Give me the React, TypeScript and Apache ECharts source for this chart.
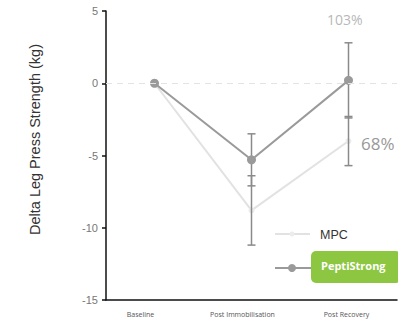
import React, { useEffect, useRef } from "react";
import * as echarts from "echarts";

const categories = ["Baseline", "Post Immobilisation", "Post Recovery"];
const peptiStrong = [0, -5.3, 0.2];
const mpc = [0, -8.8, -4.0];
const peptiErrLow = [null, -7.1, -2.4];
const peptiErrHigh = [null, -3.5, 2.8];
const mpcErrLow = [null, -11.2, -5.7];
const mpcErrHigh = [null, -6.4, -2.3];
const yTicks = { min: -15, max: 5, interval: 5 };
const pctLabels = { pepti: "103%", mpc: "68%" };

export default function App() {
  const ref = useRef<HTMLDivElement>(null);
  useEffect(() => {
    const chart = echarts.init(ref.current!, null, { renderer: "svg" });
    const errData: any[] = [];
    categories.forEach((c, i) => {
      if (mpcErrLow[i] != null) errData.push([i, mpcErrLow[i], mpcErrHigh[i]]);
      if (peptiErrLow[i] != null) errData.push([i, peptiErrLow[i], peptiErrHigh[i]]);
    });
    const font = "Liberation Sans, Arial, sans-serif";
    chart.setOption({
      animation: false,
      grid: { left: 106, right: 1, top: 11, bottom: 25 },
      xAxis: {
        type: "category",
        data: categories.map((c, i) => ({
          value: c,
          textStyle: { padding: [0, [28, 18, 4][i], 0, 0] },
        })),
        axisLine: { onZero: false, lineStyle: { color: "#111", width: 1.5 } },
        axisTick: { show: false },
        axisLabel: { fontSize: 7, color: "#555", margin: 11, fontFamily: "Open Sans, sans-serif" },
      },
      yAxis: {
        type: "value",
        min: yTicks.min,
        max: yTicks.max,
        interval: yTicks.interval,
        name: "Delta Leg Press Strength (kg)",
        nameLocation: "middle",
        nameGap: 64,
        nameTextStyle: { fontSize: 14.5, color: "#333", fontFamily: font, padding: [0, 0, 0, 32] },
        axisLine: { show: true, lineStyle: { color: "#111", width: 1.5 } },
        axisTick: { show: true, length: 4, lineStyle: { color: "#111", width: 1.5 } },
        axisLabel: { fontSize: 11, color: "#777", margin: 8, fontFamily: font },
        splitLine: { show: false },
      },
      series: [
        {
          name: "MPC",
          type: "line",
          data: mpc,
          symbol: "circle",
          symbolSize: 6,
          lineStyle: { color: "#e2e2e2", width: 2 },
          itemStyle: { color: "#ececec" },
          z: 2,
        },
        {
          name: "err",
          type: "custom",
          data: errData,
          z: 3,
          renderItem: (params: any, api: any) => {
            const lo = api.coord([api.value(0), api.value(1)]);
            const hi = api.coord([api.value(0), api.value(2)]);
            const w = 4;
            const st = { stroke: "#8a8a8a", lineWidth: 1.5 };
            return {
              type: "group",
              children: [
                { type: "line", shape: { x1: lo[0], y1: lo[1], x2: hi[0], y2: hi[1] }, style: st },
                { type: "line", shape: { x1: lo[0] - w, y1: lo[1], x2: lo[0] + w, y2: lo[1] }, style: st },
                { type: "line", shape: { x1: hi[0] - w, y1: hi[1], x2: hi[0] + w, y2: hi[1] }, style: st },
              ],
            };
          },
        },
        {
          name: "PeptiStrong",
          type: "line",
          data: peptiStrong,
          symbol: "circle",
          symbolSize: 9,
          lineStyle: { color: "#9a9a9a", width: 2 },
          itemStyle: { color: "#9a9a9a" },
          z: 4,
          markLine: {
            silent: true,
            symbol: "none",
            label: { show: false },
            lineStyle: { color: "#e3e3e3", type: [6, 5], width: 1.2 },
            data: [{ yAxis: 0 }],
          },
        },
      ],
      graphic: [
        { type: "text", left: 327, top: 12, style: { text: pctLabels.pepti, fontSize: 14, fill: "#b8b8b8", fontFamily: "Open Sans, sans-serif" } },
        { type: "text", left: 361, top: 135, style: { text: pctLabels.mpc, fontSize: 17, fill: "#999", fontFamily: "Open Sans, sans-serif" } },
        { type: "line", shape: { x1: 275, y1: 234, x2: 310, y2: 234 }, style: { stroke: "#e2e2e2", lineWidth: 2 } },
        { type: "circle", shape: { cx: 292, cy: 234, r: 2.5 }, style: { fill: "#ececec" } },
        { type: "text", left: 320, top: 228, style: { text: "MPC", fontSize: 12.5, fill: "#333", fontFamily: font } },
        { type: "line", shape: { x1: 275, y1: 268, x2: 312, y2: 268 }, style: { stroke: "#9a9a9a", lineWidth: 2 } },
        { type: "circle", shape: { cx: 292, cy: 268, r: 4 }, style: { fill: "#9a9a9a" } },
        { type: "rect", shape: { x: 311, y: 251, width: 90, height: 32, r: 5 }, style: { fill: "#8dc641" } },
        { type: "text", left: 321, top: 260, style: { text: "PeptiStrong", fontSize: 11, fontWeight: "bold", fill: "#fff", fontFamily: "Open Sans, sans-serif" } },
      ],
    });
    return () => chart.dispose();
  }, []);
  return <div ref={ref} style={{ width: 398, height: 325, position: "absolute", left: 0, top: 0, background: "#fff" }} />;
}
